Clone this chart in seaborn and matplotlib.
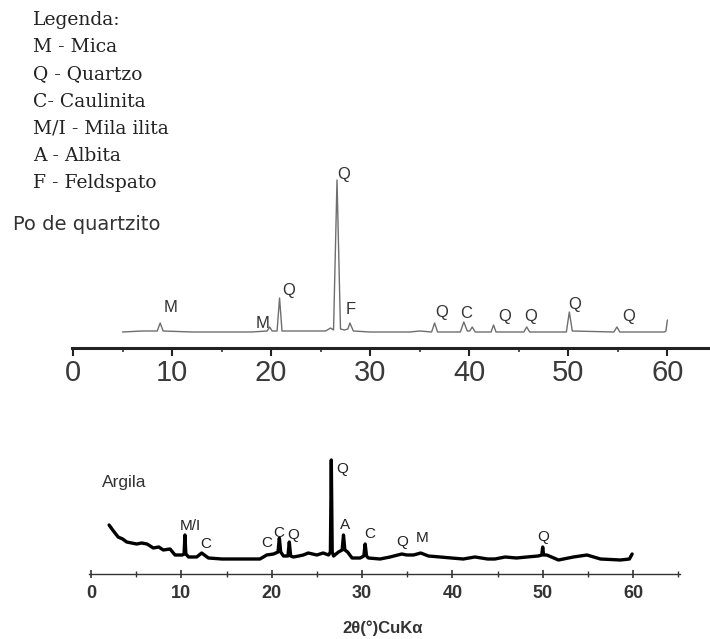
import numpy as np
import pandas as pd
import matplotlib
matplotlib.use("Agg")
import matplotlib.pyplot as plt
import seaborn as sns
from matplotlib.ticker import MultipleLocator

# --- Po de quartzito (top pattern), intensity in arbitrary units ---
quartz_2theta = [5.0, 7.0, 8.5, 8.8, 9.1, 12.0, 18.0, 19.6, 19.85, 20.1, 20.6, 20.85, 21.1,
                 25.5, 26.0, 26.3, 26.65, 27.0, 27.4, 27.75, 27.95, 28.3, 30.0, 34.0, 35.0,
                 36.2, 36.5, 36.8, 39.1, 39.45, 39.8, 40.05, 40.3, 40.6, 42.2, 42.45, 42.7,
                 45.5, 45.8, 46.1, 49.8, 50.1, 50.4, 54.6, 54.9, 55.2, 59.7, 59.85, 60.0]
quartz_int = [16, 17, 17, 25, 17, 16, 16, 17, 21, 17, 17, 50, 17,
              17, 20, 18, 168, 19, 18, 19, 25, 17, 16, 16, 17,
              16, 25, 16, 16, 26, 17, 17, 21, 16, 16, 23, 16,
              16, 21, 16, 16, 36, 17, 16, 21, 16, 16, 17, 28]

quartz_labels = ["M", "M", "Q", "Q", "F", "Q", "C", "Q", "Q", "Q", "Q"]
quartz_lab_x = [9.8, 19.1, 21.75, 27.3, 28.0, 37.2, 39.7, 43.6, 46.2, 50.6, 56.1]
quartz_lab_y = [40, 25, 58, 173, 38, 35, 35, 32, 32, 43, 31]

# --- Argila (bottom pattern) ---
clay_2theta = [2.0, 2.4, 3.0, 3.5, 3.95, 4.5, 5.06, 5.6, 6.2, 6.9, 7.5, 8.0, 8.75, 9.3,
               10.1, 10.3, 10.4, 10.5, 10.8, 11.7, 12.25, 13.0, 14.5, 16.0, 17.5, 18.7,
               19.45, 20.2, 20.7, 20.85, 21.0, 21.3, 21.8, 21.95, 22.1, 22.4, 23.0, 23.5,
               24.05, 25.0, 25.7, 26.3, 26.5, 26.6, 26.7, 26.85, 27.4, 27.8, 27.95, 28.1,
               28.4, 28.9, 29.8, 30.2, 30.35, 30.5, 30.7, 32.0, 33.1, 34.4, 34.96, 35.7,
               36.5, 37.35, 38.65, 39.9, 41.2, 42.5, 43.9, 44.7, 45.85, 47.1, 48.25,
               49.5, 49.9, 50.0, 50.1, 50.45, 51.75, 53.4, 54.9, 56.4, 58.6, 59.6, 59.9]
clay_int = [49, 44, 37, 35, 32, 31, 30, 31, 30, 26, 27, 24, 25, 19,
            19, 20, 39, 20, 17, 17, 21, 16, 15, 15, 15, 15,
            19, 20, 22, 36, 22, 18, 18, 32, 18, 17, 18, 19,
            21, 19, 21, 19, 22, 114, 22, 18, 22, 24, 39, 24,
            22, 16, 16, 18, 30, 18, 16, 15, 17, 20, 19, 19,
            21, 18, 17, 16, 15, 17, 15, 15, 17, 16, 17,
            18, 19, 27, 19, 19, 14, 17, 19, 15, 14, 15, 20]

clay_labels = ["M/I", "C", "C", "C", "Q", "Q", "A", "C", "Q", "M", "Q"]
clay_lab_x = [10.96, 12.7, 19.45, 20.75, 22.4, 27.75, 28.1, 30.9, 34.4, 36.6, 50.1]
clay_lab_y = [48, 30, 31, 41, 39, 105, 49, 40, 32, 36, 37]

legend_lines = ["Legenda:", "M - Mica", "Q - Quartzo", "C- Caulinita",
                "M/I - Mila ilita", "A - Albita", "F - Feldspato"]

sns.set_style("white")
plt.rcParams["font.family"] = ["Liberation Sans", "DejaVu Sans"]

W, H = 710, 639
fig = plt.figure(figsize=(W / 100, H / 100), dpi=100)


def px_axes(left, right, bottom, top):
    return fig.add_axes([left / W, (H - bottom) / H, (right - left) / W, (bottom - top) / H])


# top panel
ax1 = px_axes(72, 710, 348, 160)
df_q = pd.DataFrame({"theta": quartz_2theta, "intensity": quartz_int})
sns.lineplot(data=df_q, x="theta", y="intensity", ax=ax1, color="#6e6e6e", linewidth=1.0)
ax1.set_xlim(-0.1, 64.3)
ax1.set_ylim(0, 188)
for s in ["top", "left", "right"]:
    ax1.spines[s].set_visible(False)
ax1.spines["bottom"].set_linewidth(2.2)
ax1.spines["bottom"].set_color("#222222")
ax1.set_yticks([])
ax1.xaxis.set_major_locator(MultipleLocator(10))
ax1.xaxis.set_minor_locator(MultipleLocator(5))
ax1.tick_params(axis="x", which="major", direction="out", length=6, width=1.5,
                labelsize=21, pad=2, colors="#222222", labelcolor="#3a3a3a", bottom=True)
ax1.tick_params(axis="x", which="minor", direction="out", length=3, width=1.2,
                bottom=True, colors="#333333")
ax1.set_xlabel("")
ax1.set_ylabel("")
for lab, x, y in zip(quartz_labels, quartz_lab_x, quartz_lab_y):
    ax1.text(x, y, lab, ha="center", va="center", fontsize=12, color="#333333")

# bottom panel
ax2 = px_axes(89.2, 680, 574, 440)
df_c = pd.DataFrame({"theta": clay_2theta, "intensity": clay_int})
sns.lineplot(data=df_c, x="theta", y="intensity", ax=ax2, color="black", linewidth=2.4)
ax2.set_xlim(-0.2, 65.2)
ax2.set_ylim(0, 134)
for s in ["top", "left", "right"]:
    ax2.spines[s].set_visible(False)
ax2.spines["bottom"].set_linewidth(1.0)
ax2.spines["bottom"].set_color("#333333")
ax2.set_yticks([])
ax2.xaxis.set_major_locator(MultipleLocator(10))
ax2.xaxis.set_minor_locator(MultipleLocator(5))
ax2.tick_params(axis="x", which="major", direction="inout", length=6, width=1.2,
                labelsize=13, pad=5, colors="#333333", bottom=True)
ax2.tick_params(axis="x", which="minor", direction="inout", length=4, width=1.0,
                bottom=True, colors="#333333")
for t in ax2.get_xticklabels():
    t.set_fontweight("bold")
ax2.set_xlabel("")
ax2.set_ylabel("")
for lab, x, y in zip(clay_labels, clay_lab_x, clay_lab_y):
    ax2.text(x, y, lab, ha="center", va="center", fontsize=11, color="#222222")

# free text
for i, line in enumerate(legend_lines):
    fig.text(33 / W, 1 - (20 + i * 27.2) / H, line, ha="left", va="center",
             fontsize=13.5, family=["DejaVu Serif"], color="#222222")
fig.text(13 / W, 1 - 225 / H, "Po de quartzito", ha="left", va="center",
         fontsize=14, family=["DejaVu Sans"], color="#333333")
fig.text(102 / W, 1 - 483 / H, "Argila", ha="left", va="center", fontsize=12.5, color="#333333")
fig.text(383 / W, 1 - 628 / H, "2θ(°)CuKα", ha="center", va="center",
         fontsize=12, fontweight="bold", color="#333333")

fig.savefig("out.png", dpi=100)
